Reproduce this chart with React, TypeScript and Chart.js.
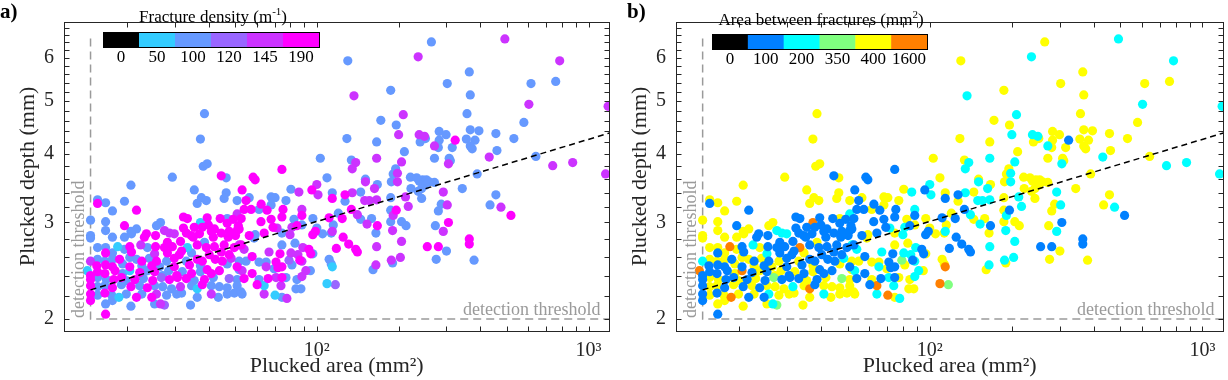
import React, { useEffect, useRef } from 'react';
import { Chart, registerables } from 'chart.js';

Chart.register(...registerables);

const FONT = '"Liberation Serif", "Times New Roman", Times, serif';
const AXIS_COLOR = '#262626';
const GREY = '#9a9a9a';

// ---- axes ----
const areaLimits = [11.74, 1193];
const depthLimits = [1.901, 6.97];
const xTickValues = [20, 30, 40, 50, 60, 70, 80, 90, 100, 200, 300, 400, 500, 600, 700, 800, 900, 1000];
const xMajorTicks = [100, 1000];
const xMajorLabels = ['10²', '10³'];
const yTickValues = [2, 2.2, 2.4, 2.6, 2.8, 3, 3.2, 3.4, 3.6, 3.8, 4, 4.2, 4.4, 4.6, 4.8, 5, 5.2, 5.4, 5.6, 5.8, 6, 6.2, 6.4, 6.6, 6.8];
const yMajorTicks = [2, 3, 4, 5, 6];

// ---- detection threshold & fit ----
const thresholdArea = 14.7;
const thresholdDepth = 2.0;
const thresholdTopDepth = 6.5;
const fitArea = [14.7, 1193];
const fitDepth = [2.26, 4.37];

// ---- colour classes ----
const densityBins = [0, 50, 100, 120, 145, 190];
const densityColors = ['#000000', '#33CCFF', '#6699FF', '#9966FF', '#CC33FF', '#FF00FF'];
const spacingBins = [0, 100, 200, 350, 400, 1600];
const spacingColors = ['#000000', '#0080FF', '#00FFFF', '#80FF80', '#FFFF00', '#FF8000'];
// area between fractures class (mm²) matching each fracture density class (m⁻¹)
const spacingForDensity: Record<number, number> = { 50: 1600, 100: 400, 120: 350, 145: 200, 190: 100 };

// ---- points, grouped by fracture density class ----
const area190 = [
  323, 518, 305, 255, 280, 364, 364, 74.4, 44.5, 58.3,
  53.1, 15.6, 21.7, 32.3, 33.4, 39.5, 44.1, 19.6, 32.3, 35.4,
  37.9, 39.9, 42.0, 46.8, 49.2, 51.4, 23.6, 25.5, 33.1, 34.5,
  37.0, 40.9, 44.5, 47.6, 50.9, 23.2, 28.2, 31.5, 35.1, 41.6,
  47.2, 50.2, 20.5, 25.5, 27.5, 29.4, 31.8, 36.3, 39.2, 42.0,
  45.6, 49.7, 16.7, 20.8, 28.2, 31.2, 40.2, 44.5, 47.6, 18.8,
  22.7, 25.7, 29.9, 36.3, 37.9, 42.3, 44.9, 15.5, 16.7, 17.7,
  20.5, 24.7, 29.9, 34.0, 39.5, 50.9, 14.7, 15.6, 16.6, 18.1,
  22.3, 25.3, 30.5, 34.6, 40.9, 43.8, 14.7, 17.9, 19.1, 21.4,
  24.9, 28.7, 30.7, 33.1, 38.6, 14.7, 17.7, 20.7, 23.8, 37.9,
  14.7, 16.6, 21.7, 24.7, 14.7, 16.7, 59.3, 95.9, 114, 127,
  196, 54.9, 62.4, 54.0, 57.3, 65.6, 75.1, 88.1, 74.4, 67.9,
  62.3, 52.7, 111, 124, 134, 167, 131, 139, 141, 118,
  125, 98.8, 96.6, 84.5, 69.0, 64.0, 56.4, 51.8, 52.7, 57.8,
  73.2, 93.5, 95.0, 86.6, 70.8, 54.0, 57.8, 71.9, 74.4, 66.2,
  74.4, 60.3,
];
const depth190 = [
  4.24, 3.09, 3.00, 2.71, 2.71, 2.80, 2.74, 3.75, 3.65, 3.63,
  3.44, 3.25, 3.16, 3.07, 3.05, 3.06, 3.05, 2.96, 2.93, 2.94,
  2.94, 2.97, 2.92, 2.99, 3.04, 2.96, 2.86, 2.84, 2.87, 2.84,
  2.86, 2.89, 2.87, 2.89, 2.90, 2.82, 2.76, 2.77, 2.82, 2.82,
  2.82, 2.84, 2.71, 2.71, 2.70, 2.71, 2.66, 2.73, 2.70, 2.71,
  2.73, 2.70, 2.64, 2.65, 2.64, 2.62, 2.62, 2.65, 2.62, 2.57,
  2.55, 2.55, 2.58, 2.57, 2.55, 2.57, 2.55, 2.50, 2.51, 2.49,
  2.49, 2.50, 2.49, 2.51, 2.46, 2.49, 2.40, 2.44, 2.42, 2.45,
  2.43, 2.44, 2.40, 2.42, 2.42, 2.45, 2.36, 2.36, 2.38, 2.36,
  2.35, 2.36, 2.38, 2.37, 2.36, 2.30, 2.28, 2.29, 2.28, 2.31,
  2.22, 2.23, 2.19, 2.19, 2.16, 2.04, 3.59, 3.44, 3.32, 3.37,
  3.16, 3.29, 3.24, 3.17, 3.17, 3.16, 3.17, 3.09, 3.07, 3.04,
  3.01, 3.05, 3.06, 3.05, 3.17, 2.96, 2.74, 2.68, 2.65, 2.69,
  2.82, 2.89, 2.85, 2.96, 2.94, 2.87, 2.84, 2.92, 2.73, 2.60,
  2.63, 2.68, 2.63, 2.56, 2.54, 2.37, 2.42, 2.48, 2.49, 2.37,
  2.38, 2.31,
];

const area145 = [
  492, 236, 783, 603, 1180, 238, 249, 271, 305, 431,
  738, 874, 1155, 292, 302, 476, 292, 137, 208, 200,
  139, 135, 166, 205, 198, 50.9, 27.5, 28.7, 29.9, 22.5,
  51.8, 25.3, 14.7, 48.4, 31.5, 25.7, 40.9, 26.6, 85.9, 100,
  101, 135, 151, 163, 150, 156, 166, 198, 212, 217,
  191, 88.1, 141, 153, 190, 205, 188, 203, 166, 165,
  114, 81.0, 79.7, 71.4, 54.0, 66.7, 80.3, 85.2, 88.8, 88.1,
  53.1, 65.1, 91.1, 88.1, 70.8, 73.8, 64.0, 77.6,
];
const depth145 = [
  6.49, 6.02, 5.92, 4.93, 4.89, 4.34, 4.31, 4.14, 3.84, 3.95,
  3.81, 3.86, 3.68, 3.41, 3.23, 3.20, 2.89, 5.11, 4.72, 4.34,
  3.86, 3.76, 3.93, 3.87, 3.69, 3.11, 2.90, 2.87, 2.86, 2.73,
  2.73, 2.63, 2.55, 2.58, 2.29, 2.22, 2.22, 2.13, 3.41, 3.52,
  3.37, 3.40, 3.56, 3.46, 3.29, 3.29, 3.30, 3.56, 3.34, 3.21,
  3.09, 3.17, 3.10, 2.98, 2.90, 2.77, 2.56, 2.59, 2.71, 2.51,
  2.89, 2.94, 2.85, 2.93, 2.68, 2.65, 2.64, 2.62, 2.70, 2.55,
  2.45, 2.49, 2.45, 2.39, 2.38, 2.30, 2.22, 2.18,
];

const area120 = [117, 26.8, 27.5, 47.6, 79.0];
const depth120 = [2.31, 2.38, 2.12, 2.37, 2.56];

const area100 = [
  264, 364, 302, 614, 757, 367, 357, 578, 367, 395,
  282, 299, 251, 240, 282, 355, 382, 456, 531, 280,
  315, 367, 373, 460, 271, 307, 310, 640, 389, 343,
  238, 245, 253, 259, 271, 251, 243, 236, 243, 456,
  287, 280, 434, 273, 300, 275, 379, 130, 187, 38.6,
  172, 196, 37.3, 129, 166, 210, 103, 134, 38.2, 39.5,
  195, 191, 29.4, 46.4, 109, 151, 221, 233, 20.7, 35.4,
  46.4, 45.6, 15.6, 16.7, 19.6, 37.6, 36.3, 39.2, 50.9, 17.7,
  46.8, 14.7, 16.7, 26.6, 25.7, 16.7, 20.7, 21.7, 14.7, 14.7,
  17.7, 19.6, 20.8, 38.6, 15.6, 16.7, 19.6, 23.8, 17.7, 34.6,
  15.6, 16.6, 17.7, 20.5, 21.7, 24.2, 28.0, 33.1, 51.8, 19.3,
  22.7, 26.4, 37.3, 46.8, 19.3, 23.8, 27.1, 28.5, 32.0, 37.3,
  51.8, 15.6, 16.8, 19.9, 23.0, 35.4, 41.6, 50.9, 15.6, 16.6,
  19.1, 22.3, 25.3, 27.1, 29.2, 34.6, 40.9, 43.8, 46.8, 50.9,
  15.6, 17.6, 19.9, 22.7, 28.0, 30.5, 31.8, 36.3, 43.4, 46.8,
  49.7, 52.6, 16.7, 17.7, 20.7, 25.3, 34.3, 80.3, 114, 127,
  145, 167, 188, 222, 187, 187, 187, 205, 213, 56.4,
  67.9, 70.2, 77.0, 61.3, 67.9, 82.4, 96.7, 120, 145, 159,
  165, 161, 190, 113, 115, 105, 100, 88.1, 74.4, 59.3,
  58.8, 74.4, 83.1, 96.7, 65.1, 61.3, 54.9, 61.3, 69.6, 81.0,
  94.7, 84.5, 77.0, 83.8, 87.4, 53.1, 74.4, 111, 113,
];
const depth100 = [
  6.41, 5.65, 5.38, 5.38, 5.43, 5.13, 4.74, 4.57, 4.43, 4.41,
  4.40, 4.34, 4.27, 4.21, 4.24, 4.26, 4.24, 4.36, 4.27, 4.11,
  4.11, 4.14, 4.09, 4.06, 3.93, 3.93, 3.89, 3.96, 3.68, 3.46,
  3.57, 3.59, 3.59, 3.56, 3.55, 3.51, 3.46, 3.42, 3.32, 3.37,
  3.24, 3.15, 3.23, 2.96, 2.66, 2.57, 2.56, 5.92, 5.23, 4.74,
  4.61, 4.52, 4.26, 4.27, 4.21, 4.04, 3.93, 3.90, 3.80, 3.84,
  3.76, 3.68, 3.63, 3.62, 3.62, 3.60, 3.63, 3.62, 3.51, 3.44,
  3.40, 3.32, 3.30, 3.26, 3.28, 3.33, 3.25, 3.29, 3.29, 3.15,
  3.05, 3.03, 3.01, 3.00, 2.96, 2.90, 2.89, 2.92, 2.84, 2.81,
  2.82, 2.82, 2.86, 2.76, 2.70, 2.70, 2.68, 2.70, 2.64, 2.64,
  2.57, 2.55, 2.57, 2.59, 2.57, 2.58, 2.55, 2.55, 2.55, 2.52,
  2.50, 2.49, 2.50, 2.52, 2.42, 2.45, 2.40, 2.45, 2.44, 2.44,
  2.46, 2.38, 2.36, 2.35, 2.37, 2.35, 2.38, 2.36, 2.29, 2.30,
  2.31, 2.30, 2.30, 2.29, 2.27, 2.30, 2.30, 2.29, 2.28, 2.30,
  2.21, 2.21, 2.22, 2.22, 2.21, 2.22, 2.23, 2.19, 2.19, 2.22,
  2.23, 2.24, 2.13, 2.16, 2.11, 2.13, 2.12, 3.45, 3.40, 3.28,
  3.41, 3.52, 3.56, 3.46, 3.33, 3.16, 3.01, 3.01, 2.96, 3.33,
  3.34, 3.33, 3.29, 3.17, 3.23, 3.04, 3.05, 3.12, 3.04, 3.05,
  2.87, 2.46, 2.53, 2.87, 2.97, 2.86, 2.93, 2.97, 2.87, 2.85,
  2.81, 2.73, 2.75, 2.63, 2.54, 2.54, 2.55, 2.36, 2.47, 2.51,
  2.45, 2.36, 2.38, 2.27, 2.27, 2.22, 2.19, 2.57, 2.52,
];

const area50 = [37.3, 18.5, 33.4, 14.3, 36.3, 20.5, 18.7, 64.0, 109, 70.2, 114];
const depth50 = [3.00, 2.71, 2.70, 2.45, 2.27, 2.45, 2.19, 2.30, 2.32, 2.21, 2.49];

// drawing order: first group ends up on top
const pointGroups = [
  { density: 190, area: area190, depth: depth190 },
  { density: 50, area: area50, depth: depth50 },
  { density: 145, area: area145, depth: depth145 },
  { density: 120, area: area120, depth: depth120 },
  { density: 100, area: area100, depth: depth100 },
];

type Part = { t: string; sup?: boolean };
type PanelCfg = {
  label: string;
  labelX: number;
  titleParts: Part[];
  bins: number[];
  colors: string[];
  colorOf: (density: number) => string;
  barLeft: number;
  barTop: number;
  barWidth: number;
  barHeight: number;
  titleX: number;
  titleY: number;
  labelsY: number;
};

const TICK = 5;

function decorPlugin(cfg: PanelCfg) {
  return {
    id: 'decor',
    afterDraw(chart: any) {
      const { ctx, chartArea } = chart;
      const { left, right, top, bottom } = chartArea;
      const xs = chart.scales.x;
      const ys = chart.scales.y;
      ctx.save();
      ctx.setLineDash([]);
      // frame
      ctx.strokeStyle = AXIS_COLOR;
      ctx.lineWidth = 1;
      const L = Math.round(left) + 0.5;
      const R = Math.round(right) + 0.5;
      const T = Math.round(top) + 0.5;
      const B = Math.round(bottom) + 0.5;
      ctx.strokeRect(L, T, R - L, B - T);
      // inward ticks on all sides
      ctx.beginPath();
      for (const v of xTickValues) {
        const p = Math.round(xs.getPixelForValue(v)) + 0.5;
        ctx.moveTo(p, B);
        ctx.lineTo(p, B - TICK);
        ctx.moveTo(p, T);
        ctx.lineTo(p, T + TICK);
      }
      for (const v of yTickValues) {
        const p = Math.round(ys.getPixelForValue(v)) + 0.5;
        ctx.moveTo(L, p);
        ctx.lineTo(L + TICK, p);
        ctx.moveTo(R, p);
        ctx.lineTo(R - TICK, p);
      }
      ctx.stroke();

      // detection threshold labels
      ctx.fillStyle = GREY;
      ctx.font = `18px ${FONT}`;
      ctx.textAlign = 'right';
      ctx.textBaseline = 'alphabetic';
      const ty = ys.getPixelForValue(thresholdDepth);
      ctx.fillText('detection threshold', right - 9, ty - 4);
      const tx = xs.getPixelForValue(thresholdArea);
      ctx.save();
      ctx.translate(tx - 7, ty - 1);
      ctx.rotate(-Math.PI / 2);
      ctx.textAlign = 'left';
      ctx.fillText('detection threshold', 0, 0);
      ctx.restore();

      // colour bar
      const seg = cfg.barWidth / cfg.colors.length;
      cfg.colors.forEach((c, i) => {
        ctx.fillStyle = c;
        ctx.fillRect(cfg.barLeft + i * seg, cfg.barTop, seg + 0.5, cfg.barHeight);
      });
      ctx.strokeStyle = '#000';
      ctx.lineWidth = 1;
      ctx.strokeRect(cfg.barLeft + 0.5, cfg.barTop + 0.5, cfg.barWidth, cfg.barHeight);
      ctx.fillStyle = '#000';
      ctx.font = `17px ${FONT}`;
      ctx.textAlign = 'center';
      ctx.textBaseline = 'middle';
      cfg.bins.forEach((b, i) => {
        ctx.fillText(String(b), cfg.barLeft + (i + 0.5) * seg, cfg.labelsY);
      });
      // colour bar title with superscript
      const mainFont = `17px ${FONT}`;
      const supFont = `11px ${FONT}`;
      let total = 0;
      for (const p of cfg.titleParts) {
        ctx.font = p.sup ? supFont : mainFont;
        total += ctx.measureText(p.t).width;
      }
      let x = cfg.titleX - total / 2;
      ctx.textAlign = 'left';
      for (const p of cfg.titleParts) {
        ctx.font = p.sup ? supFont : mainFont;
        ctx.fillText(p.t, x, p.sup ? cfg.titleY - 6 : cfg.titleY);
        x += ctx.measureText(p.t).width;
      }

      // panel label
      ctx.font = `bold 21px ${FONT}`;
      ctx.textAlign = 'left';
      ctx.textBaseline = 'middle';
      ctx.fillStyle = '#000';
      ctx.fillText(cfg.label, cfg.labelX, 13);
      ctx.restore();
    },
  };
}

function Panel({ cfg, width, left }: { cfg: PanelCfg; width: number; left: number }) {
  const ref = useRef<HTMLCanvasElement>(null);
  useEffect(() => {
    if (!ref.current) return;
    const datasets: any[] = [];
    datasets.push({
      data: fitArea.map((a, i) => ({ x: a, y: fitDepth[i] })),
      showLine: true,
      borderColor: '#000',
      borderWidth: 1.5,
      borderDash: [6, 4],
      pointRadius: 0,
      fill: false,
      clip: 0,
    });
    for (const g of pointGroups) {
      const c = cfg.colorOf(g.density);
      datasets.push({
        data: g.area.map((a, i) => ({ x: a, y: g.depth[i] })),
        backgroundColor: c,
        borderColor: c,
        pointBackgroundColor: c,
        pointBorderWidth: 0,
        pointRadius: 4.6,
        pointHoverRadius: 4.6,
        showLine: false,
        clip: 0,
      });
    }
    datasets.push({
      data: [
        { x: thresholdArea, y: thresholdTopDepth },
        { x: thresholdArea, y: thresholdDepth },
        { x: areaLimits[1], y: thresholdDepth },
      ],
      showLine: true,
      borderColor: GREY,
      borderWidth: 1.5,
      borderDash: [8, 5],
      pointRadius: 0,
      fill: false,
      clip: 0,
    });
    const chart = new Chart(ref.current, {
      type: 'scatter',
      data: { datasets },
      options: {
        responsive: false,
        animation: false,
        devicePixelRatio: 1,
        events: [],
        layout: { padding: { left: 0, right: width - 612, top: 4, bottom: 0 } },
        plugins: { legend: { display: false }, tooltip: { enabled: false } },
        scales: {
          x: {
            type: 'logarithmic',
            bounds: 'data',
            min: areaLimits[0],
            max: areaLimits[1],
            grid: { display: false, drawTicks: false },
            border: { display: false },
            afterBuildTicks: (s: any) => {
              s.ticks = xTickValues.map((v) => ({ value: v }));
            },
            afterFit: (s: any) => {
              s.height = 49;
            },
            ticks: {
              autoSkip: false,
              maxRotation: 0,
              minRotation: 0,
              padding: 8,
              color: AXIS_COLOR,
              font: { family: FONT, size: 20 },
              callback: (v: any) => {
                const i = xMajorTicks.indexOf(Number(v));
                return i >= 0 ? xMajorLabels[i] : '';
              },
            },
            title: {
              display: true,
              text: 'Plucked area (mm²)',
              color: AXIS_COLOR,
              font: { family: FONT, size: 22 },
              padding: { top: 0, bottom: 1 },
            },
          },
          y: {
            type: 'logarithmic',
            bounds: 'data',
            min: depthLimits[0],
            max: depthLimits[1],
            grid: { display: false, drawTicks: false },
            border: { display: false },
            afterBuildTicks: (s: any) => {
              s.ticks = yTickValues.map((v) => ({ value: v }));
            },
            afterFit: (s: any) => {
              s.width = 64;
            },
            ticks: {
              autoSkip: false,
              padding: 10,
              color: AXIS_COLOR,
              font: { family: FONT, size: 20 },
              callback: (v: any) => (yMajorTicks.indexOf(Number(v)) >= 0 ? String(v) : ''),
            },
            title: {
              display: true,
              text: 'Plucked depth (mm)',
              color: AXIS_COLOR,
              font: { family: FONT, size: 22 },
              padding: { top: 15, bottom: 0 },
            },
          },
        },
      } as any,
      plugins: [decorPlugin(cfg) as any],
    });
    return () => chart.destroy();
  }, []);
  return (
    <canvas
      ref={ref}
      width={width}
      height={380}
      style={{ position: 'absolute', left, top: 0, width, height: 380 }}
    />
  );
}

const panelA: PanelCfg = {
  label: 'a)',
  labelX: 0,
  titleParts: [{ t: 'Fracture density (m' }, { t: '-1', sup: true }, { t: ')' }],
  bins: densityBins,
  colors: densityColors,
  colorOf: (d) => densityColors[densityBins.indexOf(d)],
  barLeft: 103,
  barTop: 32,
  barWidth: 216,
  barHeight: 15,
  titleX: 213,
  titleY: 18,
  labelsY: 58,
};

const panelB: PanelCfg = {
  label: 'b)',
  labelX: 15,
  titleParts: [{ t: 'Area between fractures (mm' }, { t: '2', sup: true }, { t: ')' }],
  bins: spacingBins,
  colors: spacingColors,
  colorOf: (d) => spacingColors[spacingBins.indexOf(spacingForDensity[d])],
  barLeft: 100,
  barTop: 34,
  barWidth: 215,
  barHeight: 15,
  titleX: 209,
  titleY: 21,
  labelsY: 60,
};

export default function App() {
  useEffect(() => {
    document.body.style.margin = '0';
  }, []);
  return (
    <div style={{ position: 'relative', width: 1228, height: 380, background: '#fff' }}>
      <Panel cfg={panelA} width={614} left={0} />
      <Panel cfg={panelB} width={616} left={612} />
    </div>
  );
}
